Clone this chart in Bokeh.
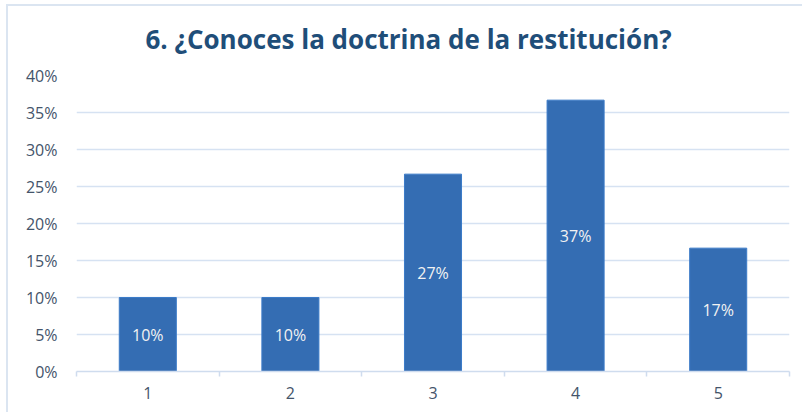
from bokeh.plotting import figure
from bokeh.models import Range1d, FixedTicker, NumeralTickFormatter, LabelSet, ColumnDataSource
from bokeh.core.properties import value
from bokeh.embed import file_html
from bokeh.resources import INLINE

title = "6. ¿Conoces la doctrina de la restitución?"
categories = ["1", "2", "3", "4", "5"]
values = [0.10, 0.10, 0.2667, 0.3667, 0.1667]
y_ticks = [0, 0.05, 0.10, 0.15, 0.20, 0.25, 0.30, 0.35, 0.40]

xs = list(range(1, len(categories) + 1))
src = ColumnDataSource(dict(
    x=xs,
    top=values,
    mid=[v / 2 for v in values],
    label=[f"{round(v * 100)}%" for v in values],
))

border_bg = ("linear-gradient(#DBE5F1, #DBE5F1) 6px 4px / 2px 408px no-repeat, "
             "linear-gradient(#DBE5F1, #DBE5F1) 6px 4px / 796px 2px no-repeat, white")

p = figure(width=802, height=412, output_backend="svg", toolbar_location=None,
           x_range=Range1d(0.5, len(categories) + 0.5), y_range=Range1d(0, 0.4),
           min_border_left=76, min_border_right=13, min_border_top=75, min_border_bottom=41,
           styles={"background": border_bg})
p.outline_line_color = None
p.background_fill_color = "white"
p.border_fill_color = None

p.title.text = title
p.title.align = "left"
p.title.text_font = "Open Sans"
p.title.text_font_style = "bold"
p.title.text_font_size = "26px"
p.title.text_color = "#1F4E79"
p.title.offset = 69
p.title.standoff = 37

p.vbar(x="x", top="top", width=0.4, source=src, fill_color="#346DB3", line_color="#3B7BC8",
       line_width=1)

p.add_layout(LabelSet(x="x", y="mid", text="label", source=src, text_align="center",
                      text_baseline="middle", text_color="#F2F2F2", text_font_size="16px",
                      text_font=value("Open Sans")))

# y axis
p.yaxis.ticker = FixedTicker(ticks=y_ticks)
p.yaxis.formatter = NumeralTickFormatter(format="0%")
p.yaxis.axis_line_color = None
p.yaxis.major_tick_line_color = None
p.yaxis.minor_tick_line_color = None
p.yaxis.major_tick_out = 0
p.yaxis.major_tick_in = 0
p.yaxis.major_label_standoff = 19
p.yaxis.major_label_text_font = "Open Sans"
p.yaxis.major_label_text_font_size = "16px"
p.yaxis.major_label_text_color = "#44546A"

# x axis
p.xaxis.ticker = FixedTicker(ticks=xs, minor_ticks=[x - 0.5 for x in xs] + [xs[-1] + 0.5])
p.xaxis.major_label_overrides = {x: c for x, c in zip(xs, categories)}
p.xaxis.axis_line_color = "#CFDCEE"
p.xaxis.axis_line_width = 1.5
p.xaxis.major_tick_line_color = None
p.xaxis.major_tick_out = 0
p.xaxis.major_tick_in = 0
p.xaxis.minor_tick_line_color = "#CFDCEE"
p.xaxis.minor_tick_line_width = 1.5
p.xaxis.minor_tick_out = 5
p.xaxis.minor_tick_in = 0
p.xaxis.major_label_standoff = 10
p.xaxis.major_label_text_font = "Open Sans"
p.xaxis.major_label_text_font_size = "16px"
p.xaxis.major_label_text_color = "#44546A"

p.xgrid.grid_line_color = None
p.ygrid.grid_line_color = "#D6E2F2"
p.ygrid.grid_line_width = 1.5

open("out.html", "w").write(file_html(p, INLINE))
